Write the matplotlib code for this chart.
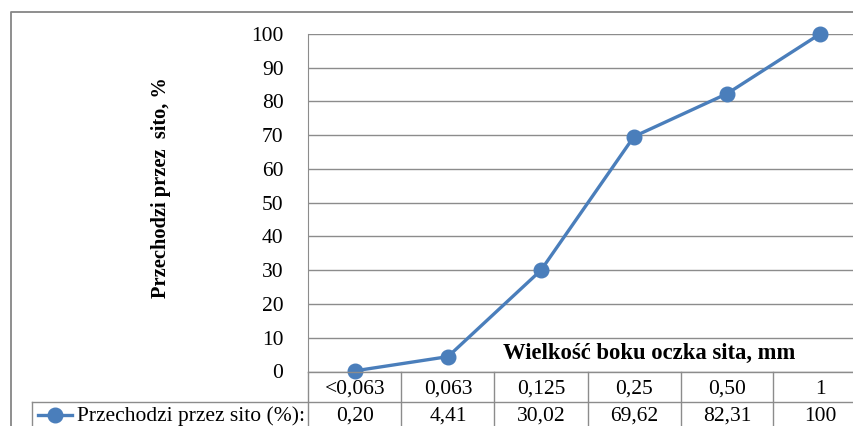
import matplotlib.pyplot as plt
from matplotlib.lines import Line2D

# sieve sizes and cumulative passing
sieve_labels = ['<0,063', '0,063', '0,125', '0,25', '0,50', '1']
passing = [0.20, 4.41, 30.02, 69.62, 82.31, 100]
passing_text = ['0,20', '4,41', '30,02', '69,62', '82,31', '100']
y_ticks = list(range(0, 101, 10))

series_name = 'Przechodzi przez sito (%):'
x_title = 'Wielkość boku oczka sita, mm'
y_title = 'Przechodzi przez  sito, %'

W, H = 854, 426
blue = '#4A7EBB'
grid = '#8C8C8C'
fs = 15.5

plt.rcParams['font.family'] = ['Liberation Serif', 'DejaVu Serif']

fig = plt.figure(figsize=(W / 100, H / 100), dpi=100)

# plot area in pixels (it runs past the right edge of the figure)
left, right, top, bottom = 308.5, 866.5, 34, 371.5
ax = fig.add_axes([left / W, 1 - bottom / H, (right - left) / W, (bottom - top) / H])

x = list(range(len(sieve_labels)))
ax.plot(x, passing, color=blue, lw=2.4, marker='o', ms=10.5, zorder=3, clip_on=False)
ax.set_xlim(-0.5, len(sieve_labels) - 0.5)
ax.set_ylim(0, 100)
ax.set_yticks(y_ticks)
ax.set_yticklabels([str(v) for v in y_ticks], fontsize=fs)
ax.set_xticks([])
ax.tick_params(axis='y', length=0, pad=18)
ax.grid(axis='y', color=grid, lw=1)
ax.set_axisbelow(True)
for s in ['top', 'right', 'bottom']:
    ax.spines[s].set_visible(False)
ax.spines['left'].set_color(grid)

fig.text(649 / W, 1 - 353 / H, x_title, ha='center', va='center',
         fontsize=16.3, fontweight='bold')
fig.text(161 / W, 1 - 188 / H, y_title, rotation=90, ha='center', va='center',
         fontsize=14.7, fontweight='bold')


def px_line(xs, ys, **kw):
    fig.add_artist(Line2D([v / W for v in xs], [1 - v / H for v in ys],
                          transform=fig.transFigure, **kw))


# outer chart border
px_line([11, 11, W + 5], [H + 5, 12, 12], color='#868686', lw=1.3)

# data table under the plot
row1, row2 = 371.5, 402
base1, base2 = 394, 421
cell = (right - left) / len(sieve_labels)
px_line([left, right], [row1, row1], color=grid, lw=1)
px_line([32, right], [row2, row2], color=grid, lw=1)
px_line([32, 32], [row2, H + 5], color=grid, lw=1)
for i in range(len(sieve_labels) + 1):
    xe = left + i * cell
    px_line([xe, xe], [row1, H + 5], color=grid, lw=1)
for i, (lab, val) in enumerate(zip(sieve_labels, passing_text)):
    xc = (left + (i + 0.5) * cell) / W
    fig.text(xc, 1 - base1 / H, lab, ha='center', va='baseline', fontsize=fs)
    fig.text(xc, 1 - base2 / H, val, ha='center', va='baseline', fontsize=fs)

# legend key inside the table
yk = 1 - 415 / H
fig.add_artist(Line2D([38 / W, 72 / W], [yk, yk], transform=fig.transFigure,
                      color=blue, lw=2.4))
fig.add_artist(Line2D([55 / W], [yk], transform=fig.transFigure, color=blue,
                      marker='o', ms=10.5))
fig.text(77 / W, 1 - base2 / H, series_name, ha='left', va='baseline', fontsize=fs)

fig.savefig('out.png', dpi=100)
